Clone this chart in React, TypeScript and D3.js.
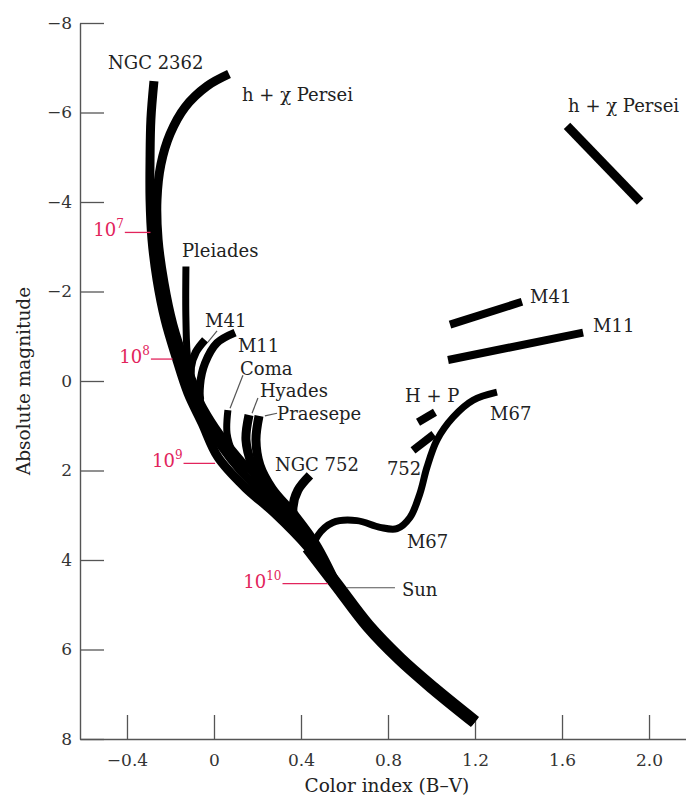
import React, { useEffect, useRef } from "react";
import * as d3 from "d3";

const W = 686;
const H = 799;

// traced sequences, each point is [B-V, absolute magnitude]
const zams: [number, number][] = [
  [-0.276, -6.7], [-0.29, -5.85], [-0.294, -4.96], [-0.294, -4.06], [-0.285, -3.16],
  [-0.262, -2.27], [-0.225, -1.37], [-0.175, -0.54], [-0.12, 0.27], [-0.055, 0.94],
  [0.018, 1.7], [0.143, 2.38], [0.28, 2.96], [0.432, 3.72], [0.566, 4.57],
  [0.708, 5.47], [0.855, 6.21], [1.007, 6.86], [1.2, 7.62],
];
const hChiPersei: [number, number][] = [
  [0.069, -6.86], [-0.032, -6.59], [-0.133, -6.12], [-0.202, -5.52], [-0.244, -4.84],
  [-0.262, -4.06], [-0.257, -3.16], [-0.23, -2.2], [-0.189, -1.26], [-0.129, -0.36], [-0.064, 0.43],
];
const pleiades: [number, number][] = [
  [-0.129, -2.56], [-0.129, -1.37], [-0.12, -0.47], [-0.087, 0.2], [-0.028, 0.76],
  [0.05, 1.32], [0.166, 2.0], [0.3, 2.75], [0.42, 3.5], [0.566, 4.57],
];
const m41: [number, number][] = [
  [-0.041, -0.92], [-0.083, -0.65], [-0.106, -0.31], [-0.101, 0.09], [-0.064, 0.54], [0.005, 1.1], [0.12, 1.88],
];
const m11: [number, number][] = [
  [0.097, -1.08], [0.014, -0.85], [-0.041, -0.4], [-0.064, 0.09], [-0.06, 0.58], [-0.028, 0.99],
  [0.028, 1.43], [0.12, 2.0], [0.257, 2.67], [0.41, 3.42], [0.566, 4.57],
];
const coma: [number, number][] = [
  [0.064, 0.65], [0.06, 1.17], [0.087, 1.61], [0.152, 2.15], [0.234, 2.6], [0.35, 3.12],
  [0.45, 3.7], [0.566, 4.57],
];
const hyades: [number, number][] = [
  [0.161, 0.76], [0.147, 1.32], [0.175, 1.88], [0.234, 2.4], [0.35, 3.0], [0.46, 3.68], [0.566, 4.57],
];
const praesepe: [number, number][] = [
  [0.207, 0.78], [0.193, 1.32], [0.211, 1.88], [0.267, 2.4], [0.372, 3.0], [0.47, 3.66], [0.566, 4.57],
];
const ngc752: [number, number][] = [
  [0.441, 2.11], [0.386, 2.44], [0.363, 2.83], [0.377, 3.27], [0.423, 3.61], [0.48, 3.95], [0.566, 4.57],
];
const m67: [number, number][] = [
  [0.5, 4.2], [0.458, 3.75], [0.478, 3.45], [0.547, 3.16], [0.657, 3.12], [0.763, 3.27], [0.841, 3.3],
  [0.901, 3.05], [0.947, 2.51], [0.979, 1.93], [1.025, 1.32], [1.099, 0.81], [1.191, 0.43], [1.301, 0.25],
];
const m41Giants: [number, number][] = [[1.085, -1.26], [1.416, -1.77]];
const m11Giants: [number, number][] = [[1.076, -0.47], [1.697, -1.08]];
const hChiGiants: [number, number][] = [[1.623, -5.7], [1.959, -4.01]];
const hpGiants: [number, number][] = [[0.938, 0.92], [1.016, 0.7]];
const ngc752Giants: [number, number][] = [[0.915, 1.55], [1.011, 1.19]];

const labelNames = [
  "NGC 2362", "h + χ Persei", "h + χ Persei", "Pleiades", "M41", "M11", "Coma", "Hyades",
  "Praesepe", "NGC 752", "752", "H + P", "M67", "M67", "M41", "M11", "Sun",
];
const labelAt: [number, number][] = [
  [-0.487, -6.97], [0.129, -6.26], [1.628, -6.01], [-0.147, -2.76], [-0.041, -1.21],
  [0.11, -0.65], [0.12, -0.13], [0.211, 0.36], [0.29, 0.87], [0.28, 2.0], [0.795, 2.11],
  [0.878, 0.47], [1.269, 0.87], [0.887, 3.74], [1.453, -1.75], [1.743, -1.1], [0.864, 4.8],
];
// thin pointer lines: [B-V from, M from, B-V to, M to]
const leaders: [number, number, number, number][] = [
  [0.014, -1.12, -0.028, -0.87],
  [0.133, -0.13, 0.074, 0.61],
  [0.202, 0.38, 0.175, 0.72],
  [0.29, 0.72, 0.234, 0.78],
  [0.611, 4.62, 0.832, 4.62],
];

// turnoff ages (10^n yr)
const ageExp = ["7", "8", "9", "10"];
const ageMag = [-3.32, -0.49, 1.84, 4.53];
const ageFrom = [-0.41, -0.29, -0.14, 0.315];
const ageTo = [-0.292, -0.19, 0.005, 0.524];

const xTicks = [-0.4, 0, 0.4, 0.8, 1.2, 1.6, 2.0];
const yTicks = [-8, -6, -4, -2, 0, 2, 4, 6, 8];

const FONT = "'DejaVu Serif', serif";
const RED = "#e2245c";

export default function App() {
  const xRef = useRef<SVGGElement>(null);
  const yRef = useRef<SVGGElement>(null);

  const x = d3.scaleLinear().domain([-0.616, 2.17]).range([80, W]);
  const y = d3.scaleLinear().domain([-8, 8]).range([23, 739]);
  const line = d3
    .line<[number, number]>()
    .x((d) => x(d[0]))
    .y((d) => y(d[1]))
    .curve(d3.curveCatmullRom.alpha(0.5));

  useEffect(() => {
    const fmt = d3.format(".1f");
    const xAxis = d3
      .axisBottom(x)
      .tickValues(xTicks)
      .tickSizeInner(-24)
      .tickSizeOuter(0)
      .tickPadding(15)
      .tickFormat((d) => (d === 0 ? "0" : fmt(d as number)));
    const gx = d3.select(xRef.current!).call(xAxis);
    const yAxis = d3
      .axisLeft(y)
      .tickValues(yTicks)
      .tickSizeInner(-24)
      .tickSizeOuter(0)
      .tickPadding(8)
      .tickFormat(d3.format("d"));
    const gy = d3.select(yRef.current!).call(yAxis);
    [gx, gy].forEach((g) => {
      g.select(".domain").attr("stroke", "#555").attr("stroke-width", 1.4);
      g.selectAll(".tick line").attr("stroke", "#555").attr("stroke-width", 1.3);
      g.selectAll(".tick text")
        .attr("fill", "#333")
        .style("font-family", FONT)
        .style("font-size", "17px");
    });
  }, []);

  const strands: { pts: [number, number][]; w: number }[] = [
    { pts: zams.filter((d) => d[1] >= 3.7), w: 13 },
    { pts: zams, w: 9 },
    { pts: hChiPersei, w: 9 },
    { pts: pleiades, w: 7 },
    { pts: m41, w: 8 },
    { pts: m11, w: 8 },
    { pts: coma, w: 7 },
    { pts: hyades, w: 9 },
    { pts: praesepe, w: 9 },
    { pts: ngc752, w: 9 },
    { pts: m67, w: 7 },
    { pts: m41Giants, w: 8 },
    { pts: m11Giants, w: 8 },
    { pts: hChiGiants, w: 9 },
    { pts: hpGiants, w: 8 },
    { pts: ngc752Giants, w: 8 },
  ];

  return (
    <svg
      width={W}
      height={H}
      style={{ position: "absolute", left: 0, top: 0, background: "#fff" }}
    >
      <g ref={xRef} transform={`translate(0,${y(8)})`} />
      <g ref={yRef} transform={`translate(${x(-0.616)},0)`} />

      {strands.map((s, i) => (
        <path
          key={i}
          d={line(s.pts) ?? ""}
          fill="none"
          stroke="#000"
          strokeWidth={s.w}
          strokeLinecap="butt"
          strokeLinejoin="round"
        />
      ))}

      {leaders.map((l, i) => (
        <line
          key={i}
          x1={x(l[0])}
          y1={y(l[1])}
          x2={x(l[2])}
          y2={y(l[3])}
          stroke="#555"
          strokeWidth={1.2}
        />
      ))}

      {ageExp.map((e, i) => (
        <g key={e}>
          <line
            x1={x(ageFrom[i])}
            x2={x(ageTo[i])}
            y1={y(ageMag[i])}
            y2={y(ageMag[i])}
            stroke={RED}
            strokeWidth={1.3}
          />
          <text
            x={x(ageFrom[i]) - 1}
            y={y(ageMag[i]) + 4}
            textAnchor="end"
            fill={RED}
            style={{ fontFamily: FONT, fontSize: 18 }}
          >
            10
            <tspan dy={-8} style={{ fontSize: 12 }}>
              {e}
            </tspan>
          </text>
        </g>
      ))}

      {labelNames.map((t, i) => (
        <text
          key={i}
          x={x(labelAt[i][0])}
          y={y(labelAt[i][1])}
          fill="#222"
          style={{ fontFamily: FONT, fontSize: 18 }}
        >
          {t}
        </text>
      ))}

      <text
        transform={`translate(23,${y(0)}) rotate(-90)`}
        textAnchor="middle"
        dominantBaseline="central"
        fill="#222"
        style={{ fontFamily: FONT, fontSize: 18.5 }}
      >
        Absolute magnitude
      </text>
      <text
        x={x(0.795)}
        y={792}
        textAnchor="middle"
        fill="#222"
        style={{ fontFamily: FONT, fontSize: 18.5 }}
      >
        Color index (B–V)
      </text>
    </svg>
  );
}
